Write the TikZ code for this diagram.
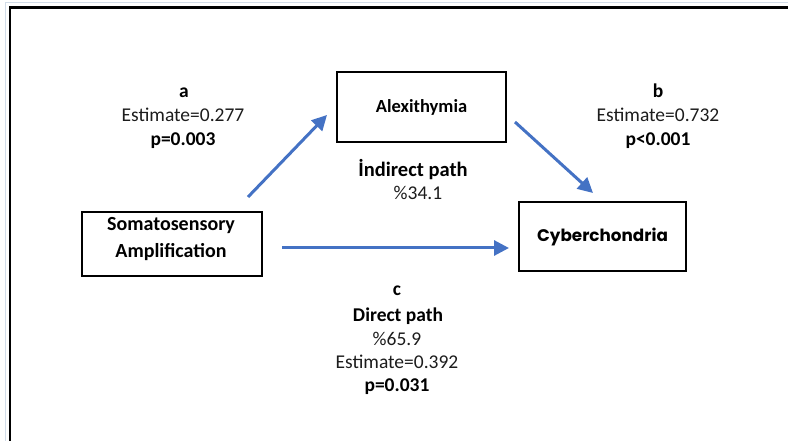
\documentclass[tikz,border=0pt]{standalone}
\usepackage{fontspec}
\setmainfont{Carlito}
\newfontfamily\gothic{Poppins}
\usetikzlibrary{arrows.meta}
\definecolor{arrowblue}{RGB}{68,114,196}
\definecolor{txt}{RGB}{28,28,28}
\definecolor{faint}{RGB}{210,220,232}
\tikzset{
  box/.style={draw=black, line width=2pt, fill=white, inner sep=0pt, font=\fontsize{18.5}{22}\selectfont\bfseries},
  boxtext/.style={anchor=base, inner sep=0pt, text=black, font=\fontsize{20}{24}\selectfont\bfseries},
  path arrow/.style={draw=arrowblue, line width=3pt, -{Triangle[length=15pt,width=15pt]}},
  lbl/.style={anchor=base, inner sep=0pt, text=txt, font=\fontsize{19.5}{23.5}\selectfont},
  blbl/.style={anchor=base, inner sep=0pt, text=black, font=\fontsize{19.5}{23.5}\selectfont\bfseries},
}
\begin{document}
\begin{tikzpicture}[x=1pt, y=-1pt]
\useasboundingbox (0,0) rectangle (788,441);
% frame
\draw[faint, line width=1pt] (5,441) -- (5,2.5) -- (788,2.5);
\draw[black, line width=2.5pt] (10,441) -- (10,7.5) -- (788,7.5);
% boxes
\node[box, minimum width=169pt, minimum height=70pt] (alex) at (421.5,107) {Alexithymia};
\node[box, minimum width=180pt, minimum height=64pt] (soma) at (172,244) {};
\node[boxtext] (somat) at (171,231) {Somatosensory};
\node[boxtext] (ampl) at (171,258) {Amplification};
\node[box, minimum width=167pt, minimum height=69pt, font=\gothic\fontsize{16.8}{20}\selectfont\bfseries] (cyber) at (602.5,236.5) {Cyberchondria};
% connector ends
\coordinate (a1) at (248,197);
\coordinate (a2) at (327,115);
\coordinate (b1) at (515,122);
\coordinate (b2) at (593,193);
\coordinate (c1) at (282,248);
\coordinate (c2) at (509,248);
\draw[path arrow] (a1) -- (a2);
\draw[path arrow] (b1) -- (b2);
\draw[path arrow] (c1) -- (c2);
% labels a
\node[blbl] (la) at (184,98) {a};
\node[lbl] (ea) at (183,122) {Estimate=0.277};
\node[blbl] (pa) at (183,146) {p=0.003};
% labels b
\node[blbl] (lb) at (658,98) {b};
\node[lbl] (eb) at (658,122) {Estimate=0.732};
\node[blbl] (pb) at (658,146) {p<0.001};
% indirect
\node[blbl, font=\fontsize{20.5}{24}\selectfont\bfseries] (ind) at (413,177) {İndirect path};
\node[lbl] (indp) at (418,200) {\%34.1};
% direct c
\node[blbl] (lc) at (397,295) {c};
\node[blbl] (dir) at (398,321) {Direct path};
\node[lbl] (dirp) at (397,345) {\%65.9};
\node[lbl] (ec) at (397,368) {Estimate=0.392};
\node[blbl] (pc) at (397,391) {p=0.031};
\end{tikzpicture}
\end{document}
